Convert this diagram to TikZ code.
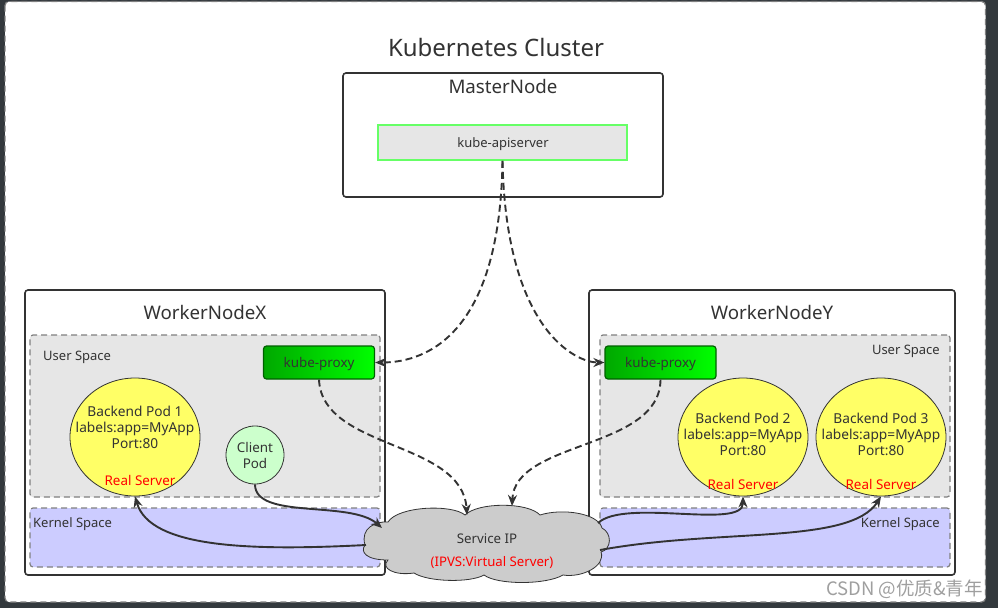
\documentclass[tikz,border=0pt]{standalone}
\usepackage{fontspec}
\setmainfont{Noto Sans}
\newfontfamily\cjkfont{Noto Sans CJK SC}
\usetikzlibrary{arrows.meta,shapes.geometric}
\definecolor{bgdark}{HTML}{33393D}
\definecolor{txt}{HTML}{333333}
\definecolor{spacegray}{HTML}{E6E6E6}
\definecolor{kernelblue}{HTML}{CCCCFF}
\definecolor{podyellow}{HTML}{FFFF66}
\definecolor{clientgreen}{HTML}{CCFFCC}
\definecolor{apigreen}{HTML}{66FF66}
\definecolor{proxydark}{HTML}{00A800}
\definecolor{proxylight}{HTML}{00FF00}
\definecolor{proxyedge}{HTML}{006000}
\definecolor{dashgray}{HTML}{808080}
\definecolor{cloudgray}{HTML}{CCCCCC}
\definecolor{redtxt}{HTML}{FF0000}
\tikzset{
  nodebox/.style={draw=txt, line width=1.6pt, rounded corners=3pt, fill=white, inner sep=0pt},
  userspace/.style={draw=dashgray, dash pattern=on 6pt off 4pt, line width=1.2pt, fill=spacegray, rounded corners=3pt, inner sep=0pt},
  kernelspace/.style={draw=dashgray, dash pattern=on 6pt off 4pt, line width=1.2pt, fill=kernelblue, rounded corners=3pt, inner sep=0pt},
  proxybox/.style={draw=proxyedge, line width=1.2pt, left color=proxydark, right color=proxylight, rounded corners=3pt, inner sep=0pt, minimum width=111pt, minimum height=33pt},
  proxytext/.style={text=txt, font=\fontsize{13.4}{15}\selectfont, inner sep=0pt},
  podshape/.style={ellipse, draw=txt, line width=0.8pt, fill=podyellow, inner sep=0pt, minimum width=130pt, minimum height=118pt},
  podtext/.style={text=txt, align=center, font=\fontsize{13.7}{16}\selectfont, inner sep=0pt},
  redlabel/.style={text=redtxt, font=\fontsize{13.4}{15}\selectfont, inner sep=0pt},
  bigtitle/.style={text=txt, font=\fontsize{18.7}{21}\selectfont, inner sep=0pt},
  smalllabel/.style={text=txt, font=\fontsize{13}{15}\selectfont, inner sep=0pt},
  dashconn/.style={draw=txt, line width=1.9pt, dash pattern=on 7pt off 4pt, -{Stealth[length=11pt,width=9pt]}},
  solidconn/.style={draw=txt, line width=1.9pt, -{Stealth[length=11pt,width=9pt]}},
}
\begin{document}
\begin{tikzpicture}[x=1pt,y=-1pt]
\useasboundingbox (0,0) rectangle (998,608);
\fill[bgdark] (0,0) rectangle (998,608);
\draw[fill=white, draw=dashgray, line width=1.2pt, dash pattern=on 6pt off 4pt, rounded corners=4pt] (5,1.5) rectangle (985.5,602);

% title
\node[text=txt, font=\fontsize{24}{28}\selectfont, inner sep=0pt] (title) at (496,47) {Kubernetes Cluster};

% master node
\node[nodebox, minimum width=320pt, minimum height=124pt] (master) at (503,135) {};
\node[bigtitle] (mastert) at (503,86) {MasterNode};
\node[draw=apigreen, line width=1.6pt, fill=spacegray, minimum width=249pt, minimum height=35pt, inner sep=0pt] (api) at (502.5,142.5) {};
\node[text=txt, font=\fontsize{13}{15}\selectfont, inner sep=0pt] (apit) at (503,144) {kube-apiserver};

% worker X
\node[nodebox, minimum width=360pt, minimum height=285pt] (wx) at (205,432.5) {};
\node[bigtitle] (wxt) at (205,312) {WorkerNodeX};
\node[userspace, minimum width=350pt, minimum height=162pt] (usx) at (205,416) {};
\node[kernelspace, minimum width=350pt, minimum height=59pt] (ksx) at (205,537.5) {};
\node[smalllabel, anchor=west] (usxt) at (43,357) {User Space};
\node[smalllabel, anchor=west] (ksxt) at (33,524) {Kernel Space};
\node[proxybox] (px) at (319,362.5) {};
\node[proxytext] (pxt) at (319,364) {kube-proxy};
\node[podshape] (pod1) at (135,437) {};
\node[podtext] (pod1t) at (135,427) {Backend Pod 1\\labels:app=MyApp\\Port:80};
\node[redlabel] (pod1r) at (140,480) {Real Server};
\node[circle, draw=txt, line width=0.8pt, fill=clientgreen, minimum size=58pt, inner sep=0pt, align=center, text=txt, font=\fontsize{13.4}{16}\selectfont] (client) at (255,455) {Client\\Pod};

% worker Y
\node[nodebox, minimum width=366pt, minimum height=285pt] (wy) at (772,432.5) {};
\node[bigtitle] (wyt) at (772,312) {WorkerNodeY};
\node[userspace, minimum width=350pt, minimum height=162pt] (usy) at (775,416) {};
\node[kernelspace, minimum width=350pt, minimum height=59pt] (ksy) at (775,537.5) {};
\node[smalllabel, anchor=east] (usyt) at (940,351) {User Space};
\node[smalllabel, anchor=east] (ksyt) at (940,524) {Kernel Space};
\node[proxybox] (py) at (660.5,362.5) {};
\node[proxytext] (pyt) at (660.5,364) {kube-proxy};
\node[podshape] (pod2) at (743,437) {};
\node[podtext] (pod2t) at (743,434.5) {Backend Pod 2\\labels:app=MyApp\\Port:80};
\node[redlabel] (pod2r) at (743,484) {Real Server};
\node[podshape] (pod3) at (881,437) {};
\node[podtext] (pod3t) at (881,434.5) {Backend Pod 3\\labels:app=MyApp\\Port:80};
\node[redlabel] (pod3r) at (881,484) {Real Server};

% cloud
\draw[fill=cloudgray, draw=txt, line width=0.8pt]
  (365,545) .. controls (360,528) and (376,521) .. (388,522)
  .. controls (398,506) and (452,504) .. (465,515)
  .. controls (478,502) and (528,502) .. (540,515)
  .. controls (562,508) and (598,513) .. (602,528)
  .. controls (612,533) and (612,549) .. (601,552)
  .. controls (606,566) and (582,578) .. (563,575)
  .. controls (546,585) and (497,585) .. (484,575)
  .. controls (470,583) and (428,582) .. (414,573)
  .. controls (394,576) and (380,568) .. (388,560)
  .. controls (366,560) and (360,552) .. (365,545) -- cycle;
\node[text=txt, font=\fontsize{13.3}{15}\selectfont, inner sep=0pt] (svc) at (487,539) {Service IP};
\node[text=redtxt, font=\fontsize{13.2}{15}\selectfont, inner sep=0pt] (ipvs) at (492,563) {(IPVS:Virtual Server)};
\coordinate (cltopl) at (467,515);
\coordinate (cltopr) at (512,506);
\coordinate (clleft) at (366,545);
\coordinate (clleftin) at (382,528);
\coordinate (clright1) at (598,523);
\coordinate (clright2) at (600,550);

% connectors
\draw[dashconn] (api.south) .. controls (500,330) and (430,362.5) .. (px.east);
\draw[dashconn] (api.south) .. controls (506,330) and (576,362.5) .. (py.west);
\draw[dashconn] (px.south) .. controls (322,450) and (462,440) .. (cltopl);
\draw[dashconn] (py.south) .. controls (660,450) and (515,440) .. (cltopr);
\draw[solidconn] (client.south) .. controls (255,520) and (350,500) .. (clleftin);
\draw[solidconn] (clleft) .. controls (250,551) and (150,548) .. (pod1.south);
\draw[solidconn] (clright1) .. controls (625,498) and (743,530) .. (pod2.south);
\draw[solidconn] (clright2) .. controls (720,528) and (850,545) .. (pod3.south);

% watermark
\node[text=gray!75, font=\cjkfont\fontsize{18.5}{20}\selectfont, inner sep=0pt, anchor=east] (wm) at (983,589) {CSDN @优质\&青年};
\end{tikzpicture}
\end{document}
